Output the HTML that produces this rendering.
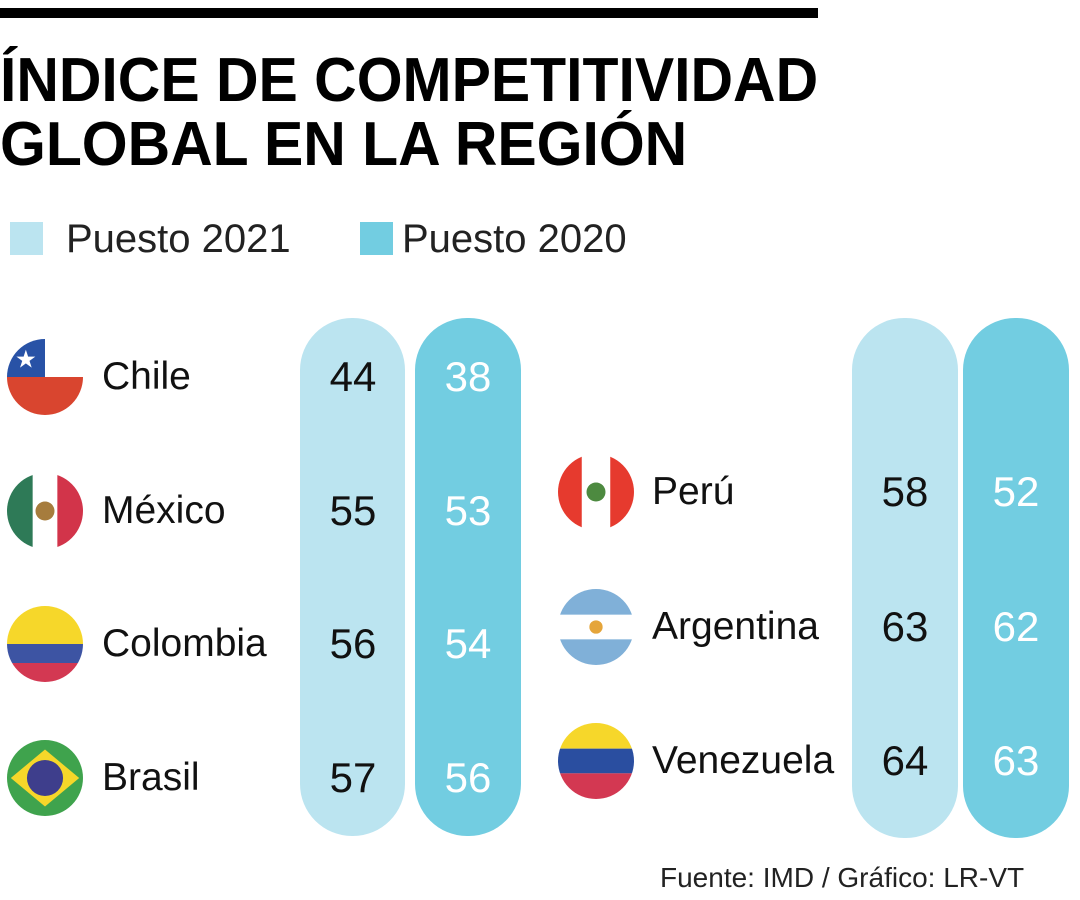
<!DOCTYPE html>
<html><head><meta charset="utf-8"><style>
body{margin:0;width:1080px;height:900px;background:#fff;position:relative;overflow:hidden;font-family:"Liberation Sans",sans-serif;color:#111}
.abs{position:absolute}
.title{left:0;font-weight:bold;font-size:62px;line-height:62px;white-space:nowrap;transform-origin:0 0;transform:scaleX(0.95);color:#000}
.pill{border-radius:52px}
.lbl{font-size:39px;line-height:40px;white-space:nowrap;transform:translateY(-50%)}
.num{font-size:42px;line-height:42px;text-align:center;transform:translateY(-50%)}
</style></head><body>
<div class="abs" style="left:0;top:8px;width:818px;height:10px;background:#000"></div>
<div class="abs title" style="top:50px">ÍNDICE DE COMPETITIVIDAD</div>
<div class="abs title" style="top:114px">GLOBAL EN LA REGIÓN</div>
<div class="abs" style="left:10px;top:222px;width:33px;height:33px;background:#bbe4f0"></div>
<div class="abs" style="left:66px;top:217px;font-size:40px;line-height:44px;color:#222">Puesto 2021</div>
<div class="abs" style="left:360px;top:222px;width:33px;height:33px;background:#72cde1"></div>
<div class="abs" style="left:402px;top:217px;font-size:40px;line-height:44px;color:#222">Puesto 2020</div>
<div class="abs pill" style="left:300px;top:318px;width:105px;height:518px;background:#bbe4f0"></div>
<div class="abs pill" style="left:415px;top:318px;width:106px;height:518px;background:#72cde1"></div>
<div class="abs pill" style="left:852px;top:318px;width:106px;height:520px;background:#bbe4f0"></div>
<div class="abs pill" style="left:963px;top:318px;width:106px;height:520px;background:#72cde1"></div>
<div class="abs" style="left:660px;top:862px;font-size:28px;line-height:32px;color:#222">Fuente: IMD / Gráfico: LR-VT</div>
<div id="rows"></div>
<script>
const countries=["Chile","México","Colombia","Brasil","Perú","Argentina","Venezuela"];
const rank2021=[44,55,56,57,58,63,64];
const rank2020=[38,53,54,56,52,62,63];
const column=[0,0,0,0,1,1,1];
const rowIndex=[0,1,2,3,1,2,3];
const flagSvgs={
"Chile":'<rect x="0" y="0" width="80" height="40" fill="#fff"/><rect x="0" y="40" width="80" height="40" fill="#d9452f"/><rect x="0" y="0" width="40" height="40" fill="#2852a6"/><text x="20" y="30" font-size="26" fill="#fff" text-anchor="middle">★</text>',
"México":'<rect width="80" height="80" fill="#fff"/><rect width="27" height="80" fill="#2e7a57"/><rect x="53" width="27" height="80" fill="#d2344a"/><circle cx="40" cy="40" r="10" fill="#a67c3d"/>',
"Colombia":'<rect width="80" height="40" fill="#f6d72a"/><rect y="40" width="80" height="20" fill="#3d54a3"/><rect y="60" width="80" height="20" fill="#d33852"/>',
"Brasil":'<rect width="80" height="80" fill="#3fa34d"/><polygon points="40,10 76,40 40,70 4,40" fill="#f6d72a"/><circle cx="40" cy="40" r="19" fill="#3e3e8c"/>',
"Perú":'<rect width="80" height="80" fill="#fff"/><rect width="25" height="80" fill="#e63a2e"/><rect x="55" width="25" height="80" fill="#e63a2e"/><circle cx="40" cy="40" r="10" fill="#4d8a40"/>',
"Argentina":'<rect width="80" height="80" fill="#fff"/><rect width="80" height="27" fill="#80b0d8"/><rect y="53" width="80" height="27" fill="#80b0d8"/><circle cx="40" cy="40" r="7" fill="#e5a53a"/>',
"Venezuela":'<rect width="80" height="27" fill="#f6d72a"/><rect y="27" width="80" height="26" fill="#2a4ea0"/><rect y="53" width="80" height="27" fill="#d33852"/>'
};
const rowY=(col,i)=>col?492+(i-1)*134.5:377+i*133.7;
const colX={flag:[45,596],label:[102,652],n1:[300,852],n2:[415,963]};
const root=document.getElementById('rows');
countries.forEach((c,i)=>{
  const col=column[i], y=rowY(col,rowIndex[i]);
  const f=document.createElement('div');
  
  
  f.className='abs';
  f.style.cssText=`left:${colX.flag[col]-38}px;top:${y-38}px;width:76px;height:76px;border-radius:50%;overflow:hidden`;
  f.innerHTML=`<svg width="76" height="76" viewBox="0 0 80 80">${flagSvgs[c]}</svg>`;
  root.appendChild(f);
  const l=document.createElement('div');
  
  
  l.className='abs lbl';
  l.style.left=colX.label[col]+'px';l.style.top=y+'px';
  l.textContent=c;root.appendChild(l);
  const a=document.createElement('div');
  
  
  a.className='abs num';
  a.style.cssText=`left:${colX.n1[col]}px;top:${y}px;width:106px;color:#111`;
  a.textContent=rank2021[i];root.appendChild(a);
  const b=document.createElement('div');
  
  
  b.className='abs num';
  b.style.cssText=`left:${colX.n2[col]}px;top:${y}px;width:106px;color:#fff`;
  b.textContent=rank2020[i];root.appendChild(b);
});
</script>
</body></html>
